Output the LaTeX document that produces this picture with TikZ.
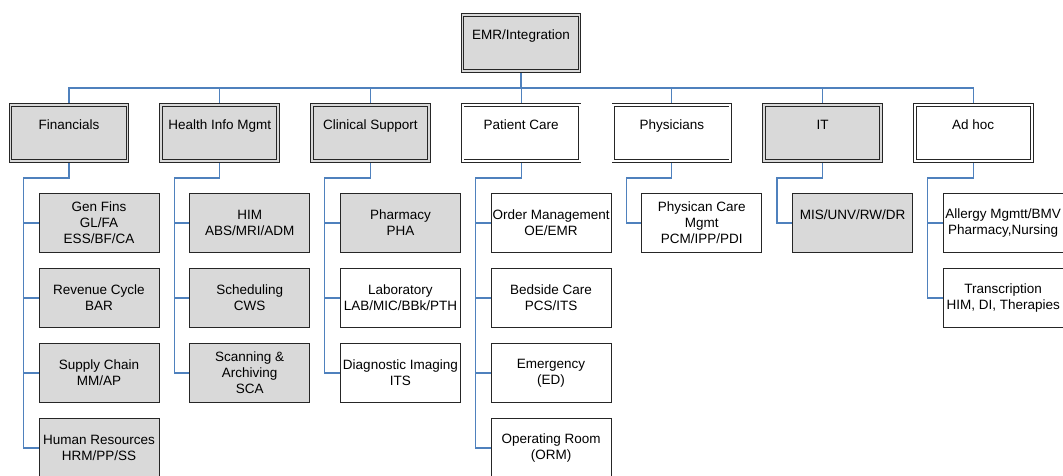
\documentclass[tikz,border=0pt]{standalone}
\usepackage{fontspec}
\setmainfont{Liberation Sans}
\usepackage{tikz}
\usetikzlibrary{positioning}

\definecolor{boxgray}{HTML}{D9D9D9}
\definecolor{linkblue}{HTML}{4F81BD}
\definecolor{edgegray}{HTML}{262626}

\begin{document}
\begin{tikzpicture}[
    x=1pt, y=1pt,
    headnode/.style={rectangle, draw=edgegray, line width=0.9pt, double distance=1.8pt, minimum width=117pt, minimum height=56pt, outer sep=2pt, inner sep=0pt, text height=10pt, text depth=18pt},
    headgray/.style={headnode, fill=boxgray, double=boxgray},
    headwhite/.style={headnode, fill=white, double=white},
    subnode/.style={rectangle, draw=edgegray, line width=0.9pt, minimum width=120pt, minimum height=59pt, outer sep=0.5pt, inner sep=0pt, align=center},
    subgray/.style={subnode, fill=boxgray},
    subwhite/.style={subnode, fill=white},
    link/.style={draw=linkblue, line width=1.1pt},
    font=\fontsize{13.5}{16}\selectfont,
    node distance=15pt and 29.7pt
    ]
    \useasboundingbox (0,0) rectangle (1063,-475);

    %Nodes
    \node[headgray] (emr) at (521,-43) {EMR/Integration};

    \node[headgray] (fin) at (69,-133) {Financials};
    \node[headgray] (him) [right=of fin] {Health Info Mgmt};
    \node[headgray] (cls) [right=of him] {Clinical Support};
    \node[headwhite] (pat) [right=of cls] {Patient Care};
    \node[headwhite] (phy) [right=of pat] {Physicians};
    \node[headgray] (it) [right=of phy] {IT};
    \node[headwhite] (adh) [right=of it] {Ad hoc};

    \node[subgray] (fin1) [below right=30pt and 30pt of fin.south west] {Gen Fins\\GL/FA\\ESS/BF/CA};
    \node[subgray] (fin2) [below=of fin1] {Revenue Cycle\\BAR};
    \node[subgray] (fin3) [below=of fin2] {Supply Chain\\MM/AP};
    \node[subgray] (fin4) [below=of fin3] {Human Resources\\HRM/PP/SS};

    \node[subgray] (him1) [below right=30pt and 30pt of him.south west] {HIM\\ABS/MRI/ADM};
    \node[subgray] (him2) [below=of him1] {Scheduling\\CWS};
    \node[subgray] (him3) [below=of him2] {Scanning \&\\Archiving\\SCA};

    \node[subgray] (cls1) [below right=30pt and 30pt of cls.south west] {Pharmacy\\PHA};
    \node[subwhite] (cls2) [below=of cls1] {Laboratory\\LAB/MIC/BBk/PTH};
    \node[subwhite] (cls3) [below=of cls2] {Diagnostic Imaging\\ITS};

    \node[subwhite] (pat1) [below right=30pt and 30pt of pat.south west] {Order Management\\OE/EMR};
    \node[subwhite] (pat2) [below=of pat1] {Bedside Care\\PCS/ITS};
    \node[subwhite] (pat3) [below=of pat2] {Emergency\\(ED)};
    \node[subwhite] (pat4) [below=of pat3] {Operating Room\\(ORM)};

    \node[subwhite] (phy1) [below right=30pt and 30pt of phy.south west] {Physican Care\\Mgmt\\PCM/IPP/PDI};

    \node[subgray, text height=10pt, text depth=18pt] (it1) [below right=30pt and 30pt of it.south west] {MIS/UNV/RW/DR};

    \node[subwhite] (adh1) [below right=30pt and 30pt of adh.south west] {Allergy Mgmtt/BMV\\Pharmacy,Nursing};
    \node[subwhite] (adh2) [below=of adh1] {Transcription\\HIM, DI, Therapies};

    %Lines
    \draw[link] (emr.south) -- ++(0,-15pt) -| (fin.north);
    \draw[link] (emr.south) -- ++(0,-15pt) -| (him.north);
    \draw[link] (emr.south) -- ++(0,-15pt) -| (cls.north);
    \draw[link] (emr.south) -- ++(0,-15pt) -| (pat.north);
    \draw[link] (emr.south) -- ++(0,-15pt) -| (phy.north);
    \draw[link] (emr.south) -- ++(0,-15pt) -| (it.north);
    \draw[link] (emr.south) -- ++(0,-15pt) -| (adh.north);

    \draw[link] (fin.south) -- ++(0,-15pt) -| ([xshift=-15pt]fin1.west) -- (fin1.west);
    \draw[link] (fin.south) -- ++(0,-15pt) -| ([xshift=-15pt]fin2.west) -- (fin2.west);
    \draw[link] (fin.south) -- ++(0,-15pt) -| ([xshift=-15pt]fin3.west) -- (fin3.west);
    \draw[link] (fin.south) -- ++(0,-15pt) -| ([xshift=-15pt]fin4.west) -- (fin4.west);

    \draw[link] (him.south) -- ++(0,-15pt) -| ([xshift=-15pt]him1.west) -- (him1.west);
    \draw[link] (him.south) -- ++(0,-15pt) -| ([xshift=-15pt]him2.west) -- (him2.west);
    \draw[link] (him.south) -- ++(0,-15pt) -| ([xshift=-15pt]him3.west) -- (him3.west);

    \draw[link] (cls.south) -- ++(0,-15pt) -| ([xshift=-15pt]cls1.west) -- (cls1.west);
    \draw[link] (cls.south) -- ++(0,-15pt) -| ([xshift=-15pt]cls2.west) -- (cls2.west);
    \draw[link] (cls.south) -- ++(0,-15pt) -| ([xshift=-15pt]cls3.west) -- (cls3.west);

    \draw[link] (pat.south) -- ++(0,-15pt) -| ([xshift=-15pt]pat1.west) -- (pat1.west);
    \draw[link] (pat.south) -- ++(0,-15pt) -| ([xshift=-15pt]pat2.west) -- (pat2.west);
    \draw[link] (pat.south) -- ++(0,-15pt) -| ([xshift=-15pt]pat3.west) -- (pat3.west);
    \draw[link] (pat.south) -- ++(0,-15pt) -| ([xshift=-15pt]pat4.west) -- (pat4.west);

    \draw[link] (phy.south) -- ++(0,-15pt) -| ([xshift=-15pt]phy1.west) -- (phy1.west);

    \draw[link] (it.south) -- ++(0,-15pt) -| ([xshift=-15pt]it1.west) -- (it1.west);

    \draw[link] (adh.south) -- ++(0,-15pt) -| ([xshift=-15pt]adh1.west) -- (adh1.west);
    \draw[link] (adh.south) -- ++(0,-15pt) -| ([xshift=-15pt]adh2.west) -- (adh2.west);

\end{tikzpicture}
\end{document}
